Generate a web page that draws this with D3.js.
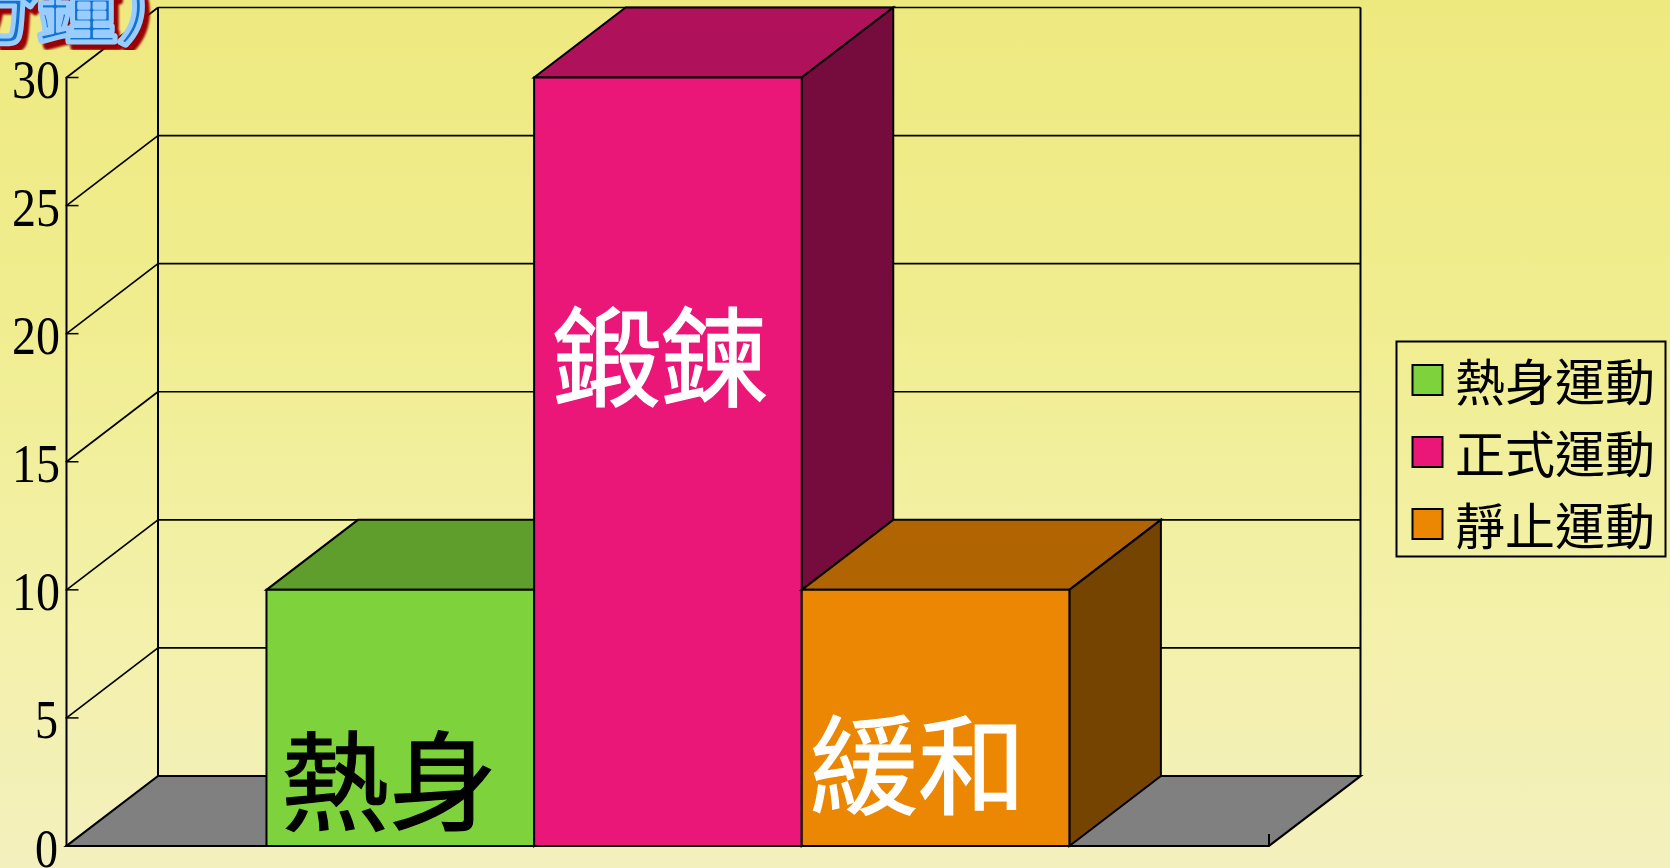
<!DOCTYPE html>
<html>
<head>
<meta charset="utf-8">
<style>
html,body{margin:0;padding:0;width:1670px;height:868px;overflow:hidden}
svg{display:block}
</style>
<script src="https://cdn.jsdelivr.net/npm/d3@7/dist/d3.min.js"></script>
</head>
<body>
<svg id="chart" width="1670" height="868"></svg>
<script>
// Exercise duration per phase, minutes
const seriesNames = ["熱身運動", "正式運動", "靜止運動"];
const seriesValues = [10, 30, 10];
const barLabels = ["熱身", "鍛鍊", "緩和"];
const barLabelColors = ["#000000", "#ffffff", "#ffffff"];
const frontColors = ["#7ED33C", "#EA1779", "#EB8702"];
const topColors = ["#5F9E2D", "#B0115B", "#B06502"];
const sideColors = ["#3F6A1E", "#760B3D", "#764401"];
const yTicks = [0, 5, 10, 15, 20, 25, 30];
const axisTitle = "（分鐘）";

const svg = d3.select("#chart");
const serif = "'Liberation Serif',serif";
const cjk = "'Noto Sans CJK TC','Noto Sans CJK JP',sans-serif";

// Page background
const defs = svg.append("defs");
const bg = defs.append("linearGradient").attr("id", "bg").attr("x1", 0).attr("y1", 0).attr("x2", 0).attr("y2", 1);
[[0, "#EEE97F"], [0.35, "#F0ED8F"], [0.7, "#F3F1A9"], [1, "#F3F0BE"]].forEach(([o, c]) =>
  bg.append("stop").attr("offset", o).attr("stop-color", c));
svg.append("rect").attr("width", 1670).attr("height", 868).attr("fill", "url(#bg)");
defs.append("filter").attr("id", "soft").append("feGaussianBlur").attr("stdDeviation", 1);

// Oblique projection: front plane plus a fixed depth offset
const depthX = 91.5, depthY = -70;
const y = d3.scaleLinear().domain([0, 30]).range([846, 77.5]);
const plane = d3.scaleLinear().domain([0, 1]).range([66.5, 1269]);
const barScale = d3.scaleBand().domain(seriesNames).range([plane(0.1663), plane(0.834)]);
const poly = (g, pts, fill, sw) => g.append("polygon")
  .attr("points", pts.map(p => p.join(",")).join(" "))
  .attr("fill", fill).attr("stroke", "#000").attr("stroke-width", sw || 2).attr("stroke-linejoin", "miter");
const line = (g, a, b, sw) => g.append("line")
  .attr("x1", a[0]).attr("y1", a[1]).attr("x2", b[0]).attr("y2", b[1])
  .attr("stroke", "#000").attr("stroke-width", sw || 2);

const g = svg.append("g");
const x0 = plane(0), x1 = plane(1), y0 = y(0), yT = y(30);

// Floor
poly(g, [[x0, y0], [x1, y0], [x1 + depthX, y0 + depthY], [x0 + depthX, y0 + depthY]], "#808080", 2.2);

// Walls, gridlines and ticks
line(g, [x0 + depthX, y0 + depthY], [x0 + depthX, yT + depthY], 2);
line(g, [x1 + depthX, y0 + depthY], [x1 + depthX, yT + depthY], 2);
line(g, [x0, y0], [x0, yT], 2);
line(g, [x1, y0], [x1, y0 - 12], 2);
yTicks.forEach(t => {
  const yy = y(t);
  if (t > 0) {
    line(g, [x0, yy], [x0 + depthX, yy + depthY], 1.7);
    line(g, [x0 + depthX, yy + depthY], [x1 + depthX, yy + depthY], 1.7);
  }
  line(g, [x0 - 1, yy], [x0 + 12, yy], 1.5);
});

// Value axis labels, set in a narrow serif
g.selectAll("text.tick").data(yTicks).join("text")
  .attr("class", "tick")
  .attr("x", d => d >= 10 ? 60 : 58).attr("y", d => y(d) + 20.5)
  .attr("text-anchor", "end")
  .attr("font-family", serif).attr("font-size", 54)
  .attr("textLength", d => d >= 10 ? 48 : 23)
  .attr("lengthAdjust", "spacingAndGlyphs")
  .text(d => d);

// Bars drawn left to right, each overlapping the side face of the one before
seriesNames.forEach((n, i) => {
  const l = barScale(n), r = l + barScale.bandwidth(), t = y(seriesValues[i]);
  const bar = g.append("g");
  poly(bar, [[l, t], [r, t], [r + depthX, t + depthY], [l + depthX, t + depthY]], topColors[i]);
  poly(bar, [[r, y0], [r, t], [r + depthX, t + depthY], [r + depthX, y0 + depthY]], sideColors[i]);
  poly(bar, [[l, y0], [r, y0], [r, t], [l, t]], frontColors[i]);
});

// Big words painted on each bar
const labelPos = [[389, 822], [660, 398], [918, 806]];
barLabels.forEach((s, i) => {
  g.append("text").attr("x", labelPos[i][0]).attr("y", labelPos[i][1])
    .attr("text-anchor", "middle").attr("font-family", cjk).attr("font-size", 108)
    .attr("fill", barLabelColors[i]).attr("stroke", barLabelColors[i]).attr("stroke-width", 1.2).text(s);
});

// Legend
const lg = svg.append("g");
lg.append("rect").attr("x", 1396.5).attr("y", 341.5).attr("width", 269).attr("height", 215)
  .attr("fill", "none").attr("stroke", "#000").attr("stroke-width", 2);
seriesNames.forEach((n, i) => {
  const cy = 380 + i * 72;
  lg.append("rect").attr("x", 1412.5).attr("y", cy - 15).attr("width", 30).attr("height", 30)
    .attr("fill", frontColors[i]).attr("stroke", "#000").attr("stroke-width", 2);
  lg.append("text").attr("x", 1455).attr("y", cy + 21).attr("font-family", cjk).attr("font-size", 50).text(n);
});

// Axis title, running off the top-left corner and cut by the chart's wall
defs.append("clipPath").attr("id", "titleClip")
  .append("rect").attr("x", 0).attr("y", 0).attr("width", 157).attr("height", 50);
const tg = svg.append("g").attr("clip-path", "url(#titleClip)");
const titleText = (fill, stroke, sw, dx, dy) => tg.append("text")
  .attr("x", -123 + dx).attr("y", 36 + dy)
  .attr("font-family", cjk).attr("font-size", 80)
  .attr("fill", fill).attr("stroke", stroke).attr("stroke-width", sw)
  .attr("stroke-linejoin", "round").text(axisTitle);
titleText("#990000", "#990000", 7, 5, 6).attr("filter", "url(#soft)");
titleText("#99CCFF", "#99CCFF", 7, 0, 0);
titleText("#1573D0", "none", 0, 0, 0);
titleText("none", "#99CCFF", 3, 0, 0);
</script>
</body>
</html>
